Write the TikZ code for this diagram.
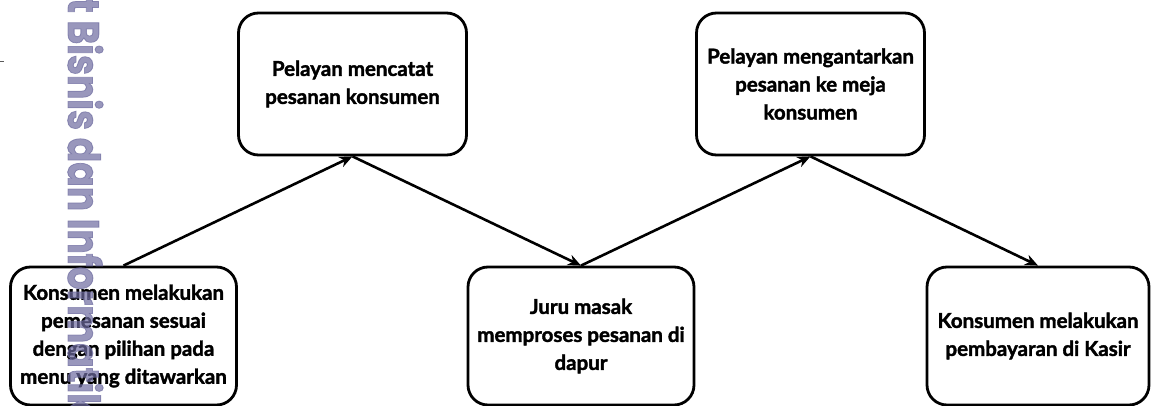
\documentclass[tikz,border=0pt]{standalone}
\usepackage{fontspec}
\setmainfont{Lato}[BoldFeatures={FakeBold=1.8}]
\newfontfamily\wmfont{Poppins}[BoldFeatures={FakeBold=2}]
\usetikzlibrary{arrows.meta}
\definecolor{wmcol}{RGB}{110,108,160}
\definecolor{straycol}{RGB}{90,90,90}
\begin{document}
\begin{tikzpicture}[x=1pt,y=1pt,
  box/.style={draw=black, line width=2.8pt, rounded corners=20pt, fill=white, align=center,
    font=\fontsize{20.5}{28}\selectfont\bfseries, inner sep=0pt},
  topbox/.style={box, minimum width=228pt, minimum height=142pt},
  botbox/.style={box, minimum width=226pt, minimum height=138pt},
  flow/.style={line width=2.6pt, -{Stealth[length=13pt,width=11pt]}},
  wm/.style={rotate=-90, anchor=base west, inner sep=0pt, text=wmcol, opacity=0.7,
    font=\wmfont\bfseries\fontsize{44}{44}\selectfont}
]
\useasboundingbox (0,0) rectangle (1151,-406);
\clip (0,0) rectangle (1151,-406);
\fill[white] (0,0) rectangle (1151,-406);
\draw[straycol, line width=1pt] (0,-62) -- (4,-62);

\node[botbox] (a) at (123.5,-336) {Konsumen melakukan\\pemesanan sesuai\\dengan pilihan pada\\menu yang ditawarkan};
\node[topbox] (b) at (352.5,-84) {Pelayan mencatat\\pesanan konsumen};
\node[botbox] (c) at (581,-336) {Juru masak\\memproses pesanan di\\dapur};
\node[topbox] (d) at (810.5,-84) {Pelayan mengantarkan\\pesanan ke meja\\konsumen};
\node[botbox, minimum width=222pt] (e) at (1038,-336) {Konsumen melakukan\\pembayaran di Kasir};

\draw[flow] (a.north) -- (b.south);
\draw[flow] (b.south) -- (c.north);
\draw[flow] (c.north) -- (d.south);
\draw[flow] (d.south) -- (e.north);

\node[wm] (wmark) at (68,2) {\scalebox{0.82}[1]{t Bisnis dan Informatik}};
\end{tikzpicture}
\end{document}
